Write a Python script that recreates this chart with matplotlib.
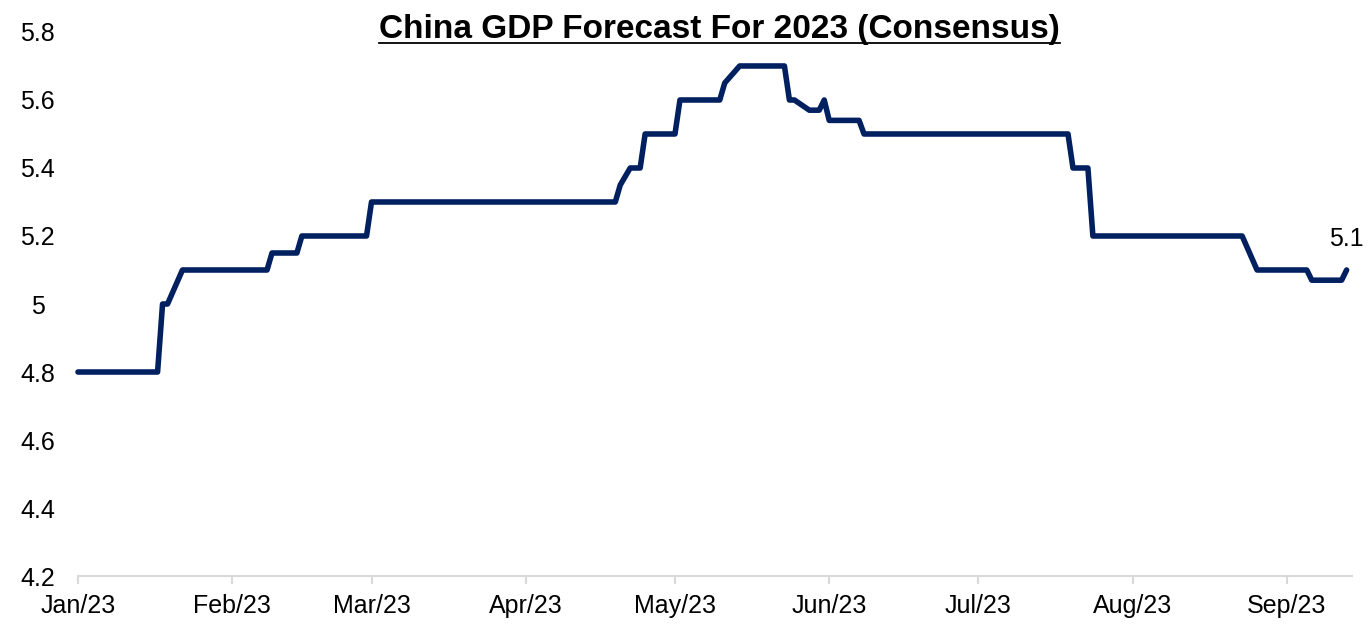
import matplotlib
matplotlib.use("Agg")
import matplotlib.pyplot as plt
import matplotlib.dates as mdates
from matplotlib.lines import Line2D
import pandas as pd

# consensus forecast for China's 2023 GDP growth, points where the line turns
dates = ["2023-01-01", "2023-01-17", "2023-01-18", "2023-01-19", "2023-01-22",
         "2023-02-08", "2023-02-09", "2023-02-14", "2023-02-15", "2023-02-28",
         "2023-03-01", "2023-04-19", "2023-04-20", "2023-04-22", "2023-04-24",
         "2023-04-25", "2023-05-01", "2023-05-02", "2023-05-10", "2023-05-11",
         "2023-05-14", "2023-05-23", "2023-05-24", "2023-05-25", "2023-05-28",
         "2023-05-30", "2023-05-31", "2023-06-01", "2023-06-07", "2023-06-08",
         "2023-07-19", "2023-07-20", "2023-07-23", "2023-07-24", "2023-08-23",
         "2023-08-26", "2023-09-05", "2023-09-06", "2023-09-12", "2023-09-13"]
forecast = [4.8, 4.8, 5.0, 5.0, 5.1,
            5.1, 5.15, 5.15, 5.2, 5.2,
            5.3, 5.3, 5.35, 5.4, 5.4,
            5.5, 5.5, 5.6, 5.6, 5.65,
            5.7, 5.7, 5.6, 5.6, 5.57,
            5.57, 5.6, 5.54, 5.54, 5.5,
            5.5, 5.4, 5.4, 5.2, 5.2,
            5.1, 5.1, 5.07, 5.07, 5.1]
last_label = "5.1"

y_ticks = [4.2, 4.4, 4.6, 4.8, 5.0, 5.2, 5.4, 5.6, 5.8]

df = pd.DataFrame({"date": pd.to_datetime(dates), "gdp": forecast})

plt.rcParams["font.family"] = ["Liberation Sans", "DejaVu Sans"]

fig = plt.figure(figsize=(13.68, 6.27), dpi=100)
ax = fig.add_axes([0.057, 0.0813, 0.931, 0.8677])

navy = "#002060"
ax.plot(df["date"], df["gdp"], color=navy, lw=4, solid_joinstyle="round",
        solid_capstyle="round", clip_on=False)

ax.set_ylim(4.2, 5.8)
ax.set_yticks(y_ticks)
ax.set_yticklabels([f"{v:g}" for v in y_ticks])
ax.set_xlim(pd.Timestamp("2023-01-01"), pd.Timestamp("2023-09-14"))
ax.xaxis.set_major_locator(mdates.MonthLocator())
ax.xaxis.set_major_formatter(mdates.DateFormatter("%b/%y"))

for side in ["left", "right", "top"]:
    ax.spines[side].set_visible(False)
ax.spines["bottom"].set_color("#d9d9d9")
ax.spines["bottom"].set_linewidth(1.5)

ax.tick_params(axis="y", length=0, pad=29, labelsize=18)
for lbl in ax.get_yticklabels():
    lbl.set_horizontalalignment("center")
ax.tick_params(axis="x", direction="out", length=6, width=1.5, color="#d9d9d9",
               pad=7, labelsize=18)

# value label on the latest reading
ax.annotate(last_label, xy=(df["date"].iloc[-1], df["gdp"].iloc[-1]),
            xytext=(0, 14), textcoords="offset points", ha="center", va="bottom",
            fontsize=18, annotation_clip=False)

title = fig.text(0.526, 0.94, "China GDP Forecast For 2023 (Consensus)",
                 ha="center", va="baseline", fontsize=24, fontweight="bold",
                 family=["Liberation Sans Narrow", "Liberation Sans", "DejaVu Sans"])

# underline the title
fig.canvas.draw()
bb = title.get_window_extent().transformed(fig.transFigure.inverted())
fig.add_artist(Line2D([bb.x0, bb.x1], [0.932, 0.932], color="black", lw=1.3,
                      transform=fig.transFigure))

fig.savefig("out.png", dpi=100)
